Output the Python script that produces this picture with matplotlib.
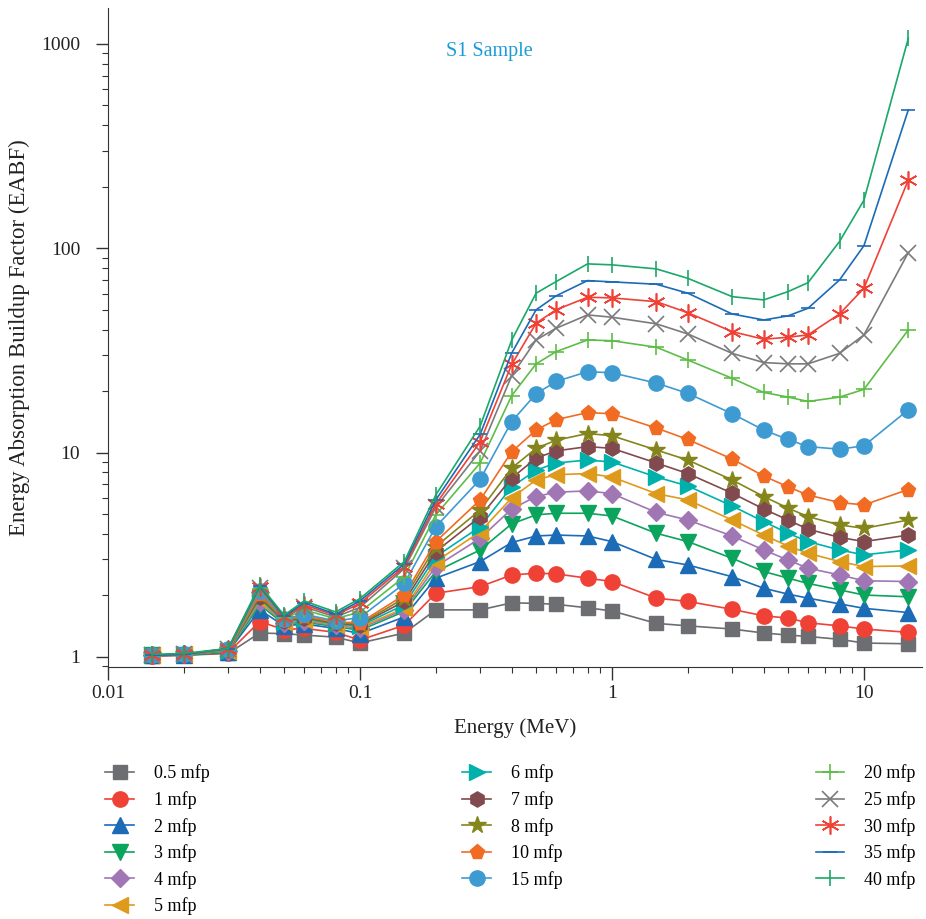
import matplotlib
matplotlib.use('Agg')
import matplotlib.pyplot as plt
from matplotlib.ticker import LogLocator, FuncFormatter, NullFormatter

plt.rcParams['font.family'] = ['Liberation Serif', 'DejaVu Serif']

energy = [0.015, 0.02, 0.03, 0.04, 0.05, 0.06, 0.08, 0.1, 0.15, 0.2, 0.3, 0.4, 0.5,
          0.6, 0.8, 1, 1.5, 2, 3, 4, 5, 6, 8, 10, 15]

labels = ['0.5 mfp', '1 mfp', '2 mfp', '3 mfp', '4 mfp', '5 mfp', '6 mfp', '7 mfp',
          '8 mfp', '10 mfp', '15 mfp', '20 mfp', '25 mfp', '30 mfp', '35 mfp', '40 mfp']

# EABF values at each energy, one list per penetration depth
eabf_05 = [1.01, 1.02, 1.04, 1.31, 1.30, 1.28, 1.25, 1.17, 1.31, 1.70, 1.70, 1.84, 1.83,
           1.81, 1.74, 1.68, 1.46, 1.42, 1.37, 1.31, 1.28, 1.26, 1.22, 1.17, 1.16]
eabf_1 = [1.01, 1.02, 1.05, 1.49, 1.36, 1.38, 1.32, 1.21, 1.43, 2.05, 2.21, 2.52, 2.57,
          2.55, 2.43, 2.34, 1.94, 1.87, 1.71, 1.59, 1.55, 1.47, 1.42, 1.37, 1.32]
eabf_2 = [1.02, 1.02, 1.06, 1.70, 1.42, 1.45, 1.38, 1.30, 1.57, 2.43, 2.93, 3.63, 3.91,
          3.95, 3.91, 3.67, 3.00, 2.82, 2.47, 2.17, 2.03, 1.94, 1.82, 1.73, 1.65]
eabf_3 = [1.02, 1.02, 1.06, 1.80, 1.45, 1.48, 1.41, 1.35, 1.67, 2.62, 3.34, 4.48, 4.96,
          5.05, 5.05, 4.90, 4.03, 3.67, 3.04, 2.62, 2.43, 2.29, 2.13, 2.01, 1.97]
eabf_4 = [1.02, 1.03, 1.07, 1.86, 1.47, 1.50, 1.43, 1.38, 1.70, 2.77, 3.81, 5.30, 6.10,
          6.40, 6.50, 6.30, 5.10, 4.68, 3.91, 3.34, 2.98, 2.72, 2.52, 2.36, 2.34]
eabf_5 = [1.02, 1.03, 1.07, 1.90, 1.48, 1.52, 1.44, 1.40, 1.73, 2.93, 4.10, 6.00, 7.35,
          7.80, 7.90, 7.60, 6.30, 5.87, 4.68, 3.95, 3.49, 3.22, 2.93, 2.77, 2.79]
eabf_6 = [1.02, 1.03, 1.07, 1.94, 1.49, 1.54, 1.45, 1.42, 1.80, 3.10, 4.34, 6.80, 8.20,
          8.90, 9.20, 9.00, 7.60, 6.87, 5.48, 4.60, 4.03, 3.67, 3.34, 3.16, 3.34]
eabf_7 = [1.02, 1.03, 1.08, 1.97, 1.50, 1.56, 1.46, 1.44, 1.87, 3.28, 4.86, 7.50, 9.40,
          10.2, 10.7, 10.5, 8.90, 7.90, 6.33, 5.30, 4.68, 4.22, 3.85, 3.67, 3.95]
eabf_8 = [1.02, 1.03, 1.08, 2.00, 1.51, 1.57, 1.47, 1.45, 1.94, 3.47, 5.24, 8.40, 10.5,
          11.5, 12.4, 12.1, 10.3, 9.20, 7.35, 6.10, 5.35, 4.86, 4.43, 4.26, 4.68]
eabf_10 = [1.02, 1.03, 1.08, 2.04, 1.52, 1.59, 1.48, 1.47, 2.01, 3.67, 5.87, 10.1, 12.9,
           14.5, 15.7, 15.5, 13.2, 11.6, 9.30, 7.69, 6.80, 6.20, 5.70, 5.55, 6.60]
eabf_15 = [1.02, 1.03, 1.09, 2.10, 1.53, 1.62, 1.50, 1.56, 2.29, 4.34, 7.40, 14.2, 19.4,
           22.3, 24.9, 24.6, 21.9, 19.5, 15.5, 12.9, 11.6, 10.7, 10.4, 10.8, 16.2]
eabf_20 = [1.02, 1.03, 1.09, 2.15, 1.55, 1.70, 1.54, 1.66, 2.47, 4.96, 8.90, 19.0, 27.2,
           31.2, 35.6, 35.3, 32.8, 28.4, 23.1, 19.7, 18.7, 17.8, 18.7, 20.4, 39.9]
eabf_25 = [1.02, 1.03, 1.09, 2.18, 1.56, 1.76, 1.57, 1.75, 2.71, 5.40, 10.2, 23.8, 35.6,
           40.6, 47.2, 46.0, 42.7, 38.1, 30.6, 27.6, 27.2, 27.2, 30.6, 37.7, 95.3]
eabf_30 = [1.02, 1.03, 1.10, 2.20, 1.57, 1.80, 1.60, 1.83, 2.77, 5.60, 11.3, 27.0, 43.0,
           50.0, 57.6, 57.2, 54.8, 48.4, 39.1, 35.9, 36.7, 37.7, 47.7, 63.8, 216]
eabf_35 = [1.02, 1.03, 1.10, 2.22, 1.58, 1.84, 1.62, 1.88, 2.85, 5.87, 12.3, 30.7, 50.0,
           58.5, 69.5, 68.5, 66.7, 60.3, 47.7, 44.6, 46.7, 50.9, 70.0, 103, 476]
eabf_40 = [1.03, 1.04, 1.10, 2.25, 1.60, 1.88, 1.66, 1.93, 2.93, 6.21, 13.5, 35.5, 60.3,
           68.7, 83.9, 83.0, 79.3, 71.3, 58.0, 55.9, 61.4, 67.9, 108, 172, 1067]

series = [eabf_05, eabf_1, eabf_2, eabf_3, eabf_4, eabf_5, eabf_6, eabf_7,
          eabf_8, eabf_10, eabf_15, eabf_20, eabf_25, eabf_30, eabf_35, eabf_40]

colors = ['#6d6e71', '#ef4136', '#1b6bb6', '#0ba45c', '#a076b5', '#de9a1b', '#00b1ab', '#814a4e',
          '#84861c', '#f26b22', '#3e9bd2', '#5dbd47', '#7b7b7d', '#ef4136', '#1b6bb6', '#1aa868']
markers = ['s', 'o', '^', 'v', 'D', '<', '>', 'h', '*', 'p', 'o', '+', 'x', (6, 2, 0), '_', '|']
sizes = [10, 11, 11, 11, 9, 11, 11, 11, 13, 11, 11, 11, 11, 13, 10, 12]

fig = plt.figure(figsize=(9.26, 9.19), dpi=100)
ax = fig.add_axes([0.1166, 0.2742, 0.8791, 0.7171])

for y, lab, c, m, s in zip(series, labels, colors, markers, sizes):
    thin = m in ('+', 'x', '_', '|') or isinstance(m, tuple)
    ax.plot(energy, y, color=c, marker=m, markersize=s, lw=1.2, label=lab,
            markeredgewidth=1.2 if thin else 1.0)

ax.set_xscale('log')
ax.set_yscale('log')
ax.set_xlim(0.01, 17)
ax.set_ylim(0.893, 1500)

fmt = FuncFormatter(lambda v, p: ('%g' % v))
ax.xaxis.set_major_formatter(fmt)
ax.yaxis.set_major_formatter(fmt)
ax.xaxis.set_minor_locator(LogLocator(base=10, subs=range(2, 10)))
ax.yaxis.set_minor_locator(LogLocator(base=10, subs=range(2, 10)))
ax.xaxis.set_minor_formatter(NullFormatter())
ax.yaxis.set_minor_formatter(NullFormatter())
ax.tick_params(which='major', length=9, width=1, labelsize=14, color='#333333', labelcolor='#222222')
ax.tick_params(which='minor', length=4.5, width=0.8, color='#333333')
ax.tick_params(axis='y', which='major', pad=11)
ax.tick_params(axis='x', which='major', pad=4)

for side in ('top', 'right'):
    ax.spines[side].set_visible(False)
for side in ('left', 'bottom'):
    ax.spines[side].set_color('#333333')

ax.set_xlabel('Energy (MeV)', fontsize=15, labelpad=12, color='#222222')
ax.set_ylabel('Energy Absorption Buildup Factor (EABF)', fontsize=16.5, labelpad=8, color='#222222')
ax.text(0.469, 0.934, 'S1 Sample', transform=ax.transAxes, ha='center', va='center',
        fontsize=14.5, color='#1a9bd7')

fig.legend(loc='upper left', bbox_to_anchor=(0.1135, 0.168), ncol=3, frameon=False,
           fontsize=13, handlelength=1.6, handletextpad=1.1, columnspacing=14.0,
           labelspacing=0.48, borderpad=0, borderaxespad=0)

fig.savefig('out.png', dpi=100)
